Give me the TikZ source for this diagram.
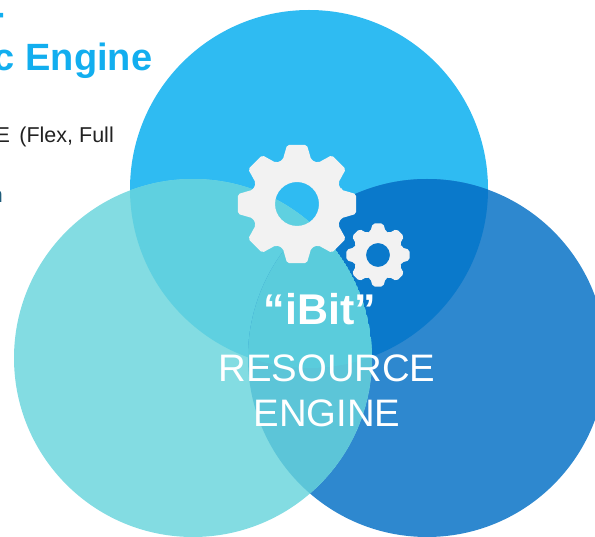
\documentclass[tikz,border=0pt]{standalone}
\usepackage{fontspec}
\setmainfont{Liberation Sans}
\definecolor{topblue}{HTML}{2FBBF2}
\definecolor{leftteal}{HTML}{83DCE2}
\definecolor{rightblue}{HTML}{2E88CF}
\definecolor{topleft}{HTML}{5FD0E0}
\definecolor{topright}{HTML}{0A79CB}
\definecolor{leftright}{HTML}{5CC5D8}
\definecolor{allthree}{HTML}{5ACCDC}
\definecolor{cogwhite}{HTML}{F2F2F2}
\definecolor{titleblue}{HTML}{12AEEF}
\definecolor{bodydark}{HTML}{222222}
\definecolor{resttext}{HTML}{1F5C7A}
\tikzset{
  title/.style={anchor=base east,inner sep=0pt,text=titleblue,font=\fontsize{38}{40}\selectfont\bfseries},
  body/.style={anchor=base east,inner sep=0pt,text=bodydark,font=\fontsize{21.5}{24}\selectfont},
  centre/.style={anchor=base,inner sep=0pt,text=white,font=\fontsize{38.3}{40}\selectfont},
  cog/.style={fill=cogwhite,even odd rule,rounded corners=2pt}
}
% one cog with eight teeth: centre, outer radius, hole radius
\newcommand{\cogwheel}[3]{
  \fill[cog] ([shift={(#1)}]-18:{0.77*#2})
    foreach \a in {0,45,...,315}{
      -- ([shift={(#1)}]\a-18:{0.77*#2}) -- ([shift={(#1)}]\a-9.5:#2)
      -- ([shift={(#1)}]\a+9.5:#2) -- ([shift={(#1)}]\a+18:{0.77*#2})
    } -- cycle
    [sharp corners] (#1) circle (#3);
}

\begin{document}
\begin{tikzpicture}[x=1pt,y=-1pt]
  \useasboundingbox (0,0) rectangle (595,537);
  \clip (0,0) rectangle (595,537);

  \coordinate (T) at (309,189);
  \coordinate (L) at (193,358);
  \coordinate (R) at (427,358);

  % cut-off text on the left
  \node[title] (dash) at (5,26) {-};
  \node[title] (engine) at (152.5,71) {c Engine};
  \node[body] (flex) at (114,143) {E \,(Flex, Full};
  \node[body,text=resttext] (rest) at (3,203) {n};

  % the three circles
  \fill[topblue] (T) circle (179);
  \fill[rightblue] (R) circle (179);
  \fill[leftteal] (L) circle (179);

  % overlaps
  \begin{scope}
    \clip (T) circle (179);
    \fill[topleft] (L) circle (179);
    \fill[topright] (R) circle (179);
  \end{scope}
  \begin{scope}
    \clip (L) circle (179);
    \clip (R) circle (179);
    \fill[leftright] (L) circle (179);
    \clip (T) circle (179);
    \fill[allthree] (L) circle (179);
  \end{scope}

  \cogwheel{297,204}{60}{22}
  \cogwheel{378,255}{32}{12}

  \node[centre,font=\fontsize{43}{44}\selectfont\bfseries] (ibit) at (320,325) {“iBit”};
  \node[centre] (resource) at (327,381.5) {RESOURCE};
  \node[centre] (eng) at (327,426.5) {ENGINE};
\end{tikzpicture}
\end{document}
